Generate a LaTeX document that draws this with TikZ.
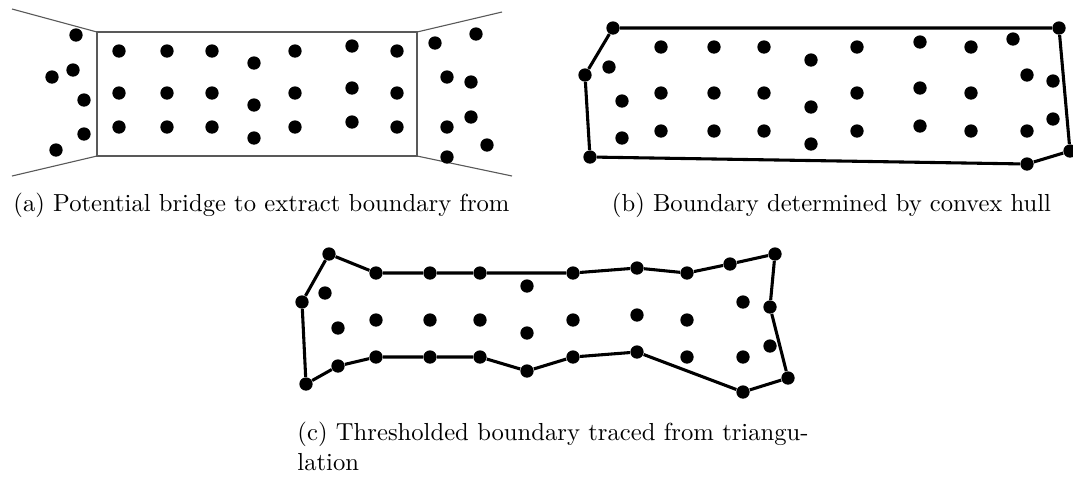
\documentclass[tikz,border=0pt]{standalone}
\usetikzlibrary{positioning}
\begin{document}
\begin{tikzpicture}[x=0.406pt, y=-0.406pt,
          dt/.style ={circle, fill=black, minimum size=5.4pt, inner sep=0pt},
          be/.style ={draw=black, line width=1.25pt, line join=round},
          ge/.style ={draw=black!65, line width=0.45pt},
          lbl/.style={inner sep=0pt, anchor=base west}]
        \useasboundingbox (0,0) rectangle (1073,478);
        \coordinate (r1) at (97,32);  \coordinate (r2) at (417,156);
        \coordinate (r3) at (97,156); \coordinate (r4) at (417,32);
        \coordinate (e1) at (12,9);   \coordinate (e2) at (12,176);
        \coordinate (e3) at (502,12); \coordinate (e4) at (512,176);
        \draw[ge] (r1) rectangle (r2);
        \draw[ge] (e1)--(r1); \draw[ge] (e2)--(r3); \draw[ge] (r4)--(e3); \draw[ge] (r2)--(e4);
        \node[dt] (a1) at (76,35) {};  \node[dt] (a2) at (73,70) {};  \node[dt] (a3) at (52,77) {};
        \node[dt] (a4) at (84,100) {}; \node[dt] (a5) at (84,134) {}; \node[dt] (a6) at (56,150) {};
        \node[dt] (a7) at (119,51) {};  \node[dt] (a8) at (119,93) {};  \node[dt] (a9) at (119,127) {};
        \node[dt] (a10) at (167,51) {}; \node[dt] (a11) at (167,93) {}; \node[dt] (a12) at (167,127) {};
        \node[dt] (a13) at (212,51) {}; \node[dt] (a14) at (212,93) {}; \node[dt] (a15) at (212,127) {};
        \node[dt] (a16) at (254,63) {}; \node[dt] (a17) at (254,105) {}; \node[dt] (a18) at (254,138) {};
        \node[dt] (a19) at (295,51) {}; \node[dt] (a20) at (295,93) {}; \node[dt] (a21) at (295,127) {};
        \node[dt] (a22) at (352,46) {}; \node[dt] (a23) at (352,88) {}; \node[dt] (a24) at (352,122) {};
        \node[dt] (a25) at (397,51) {}; \node[dt] (a26) at (397,93) {}; \node[dt] (a27) at (397,127) {};
        \node[dt] (a28) at (435,43) {};  \node[dt] (a29) at (476,34) {};  \node[dt] (a30) at (447,77) {};
        \node[dt] (a31) at (471,82) {};  \node[dt] (a32) at (471,117) {}; \node[dt] (a33) at (447,127) {};
        \node[dt] (a34) at (487,145) {}; \node[dt] (a35) at (447,157) {};
        \node[lbl] (capa) at (13,211.5) {(a) Potential bridge to extract boundary from};
        \node[dt] (b1) at (613,28) {};  \node[dt] (b2) at (1059,28) {}; \node[dt] (b3) at (1070,151) {};
        \node[dt] (b4) at (1027,164) {}; \node[dt] (b5) at (590,157) {}; \node[dt] (b6) at (585,75) {};
        \draw[be] (b1)--(b2)--(b3)--(b4)--(b5)--(b6)--(b1);
        \node[dt] (b7) at (609,67) {}; \node[dt] (b8) at (622,101) {}; \node[dt] (b9) at (622,138) {};
        \node[dt] (b10) at (661,47) {}; \node[dt] (b11) at (661,93) {}; \node[dt] (b12) at (661,131) {};
        \node[dt] (b13) at (714,47) {}; \node[dt] (b14) at (714,93) {}; \node[dt] (b15) at (714,131) {};
        \node[dt] (b16) at (764,47) {}; \node[dt] (b17) at (764,93) {}; \node[dt] (b18) at (764,131) {};
        \node[dt] (b19) at (811,60) {}; \node[dt] (b20) at (811,107) {}; \node[dt] (b21) at (811,144) {};
        \node[dt] (b22) at (857,47) {}; \node[dt] (b23) at (857,93) {}; \node[dt] (b24) at (857,131) {};
        \node[dt] (b25) at (920,42) {}; \node[dt] (b26) at (920,88) {}; \node[dt] (b27) at (920,126) {};
        \node[dt] (b28) at (971,47) {}; \node[dt] (b29) at (971,93) {}; \node[dt] (b30) at (971,131) {};
        \node[dt] (b31) at (1013,39) {}; \node[dt] (b32) at (1027,75) {}; \node[dt] (b33) at (1053,81) {};
        \node[dt] (b34) at (1053,119) {}; \node[dt] (b35) at (1027,131) {};
        \node[lbl] (capb) at (611.5,211.5) {(b) Boundary determined by convex hull};
        \node[dt] (c1) at (329,254) {};  \node[dt] (c2) at (376,273) {};  \node[dt] (c3) at (430,273) {};
        \node[dt] (c4) at (480,273) {};  \node[dt] (c5) at (573,273) {};  \node[dt] (c6) at (637,268) {};
        \node[dt] (c7) at (687,273) {};  \node[dt] (c8) at (730,264) {};  \node[dt] (c9) at (775,254) {};
        \node[dt] (c10) at (770,307) {}; \node[dt] (c11) at (788,378) {}; \node[dt] (c12) at (743,392) {};
        \node[dt] (c13) at (637,352) {}; \node[dt] (c14) at (573,357) {}; \node[dt] (c15) at (527,371) {};
        \node[dt] (c16) at (480,357) {}; \node[dt] (c17) at (430,357) {}; \node[dt] (c18) at (376,357) {};
        \node[dt] (c19) at (338,366) {}; \node[dt] (c20) at (306,384) {}; \node[dt] (c21) at (302,302) {};
        \draw[be] (c1)--(c2)--(c3)--(c4)--(c5)--(c6)--(c7)--(c8)--(c9)--(c10)--(c11)
                  --(c12)--(c13)--(c14)--(c15)--(c16)--(c17)--(c18)--(c19)--(c20)--(c21)--(c1);
        \node[dt] (c22) at (325,293) {}; \node[dt] (c23) at (338,328) {}; \node[dt] (c24) at (376,320) {};
        \node[dt] (c25) at (430,320) {}; \node[dt] (c26) at (480,320) {}; \node[dt] (c27) at (527,286) {};
        \node[dt] (c28) at (527,333) {}; \node[dt] (c29) at (573,320) {}; \node[dt] (c30) at (637,315) {};
        \node[dt] (c31) at (687,320) {}; \node[dt] (c32) at (743,302) {}; \node[dt] (c33) at (687,357) {};
        \node[dt] (c34) at (743,357) {}; \node[dt] (c35) at (770,346) {};
        \node[inner sep=0pt, anchor=north west, text width=207.5pt, align=justify] (capc) at (297,421.5)
          {(c) Thresholded boundary traced from triangu-\linebreak lation};
      \end{tikzpicture}
\end{document}
